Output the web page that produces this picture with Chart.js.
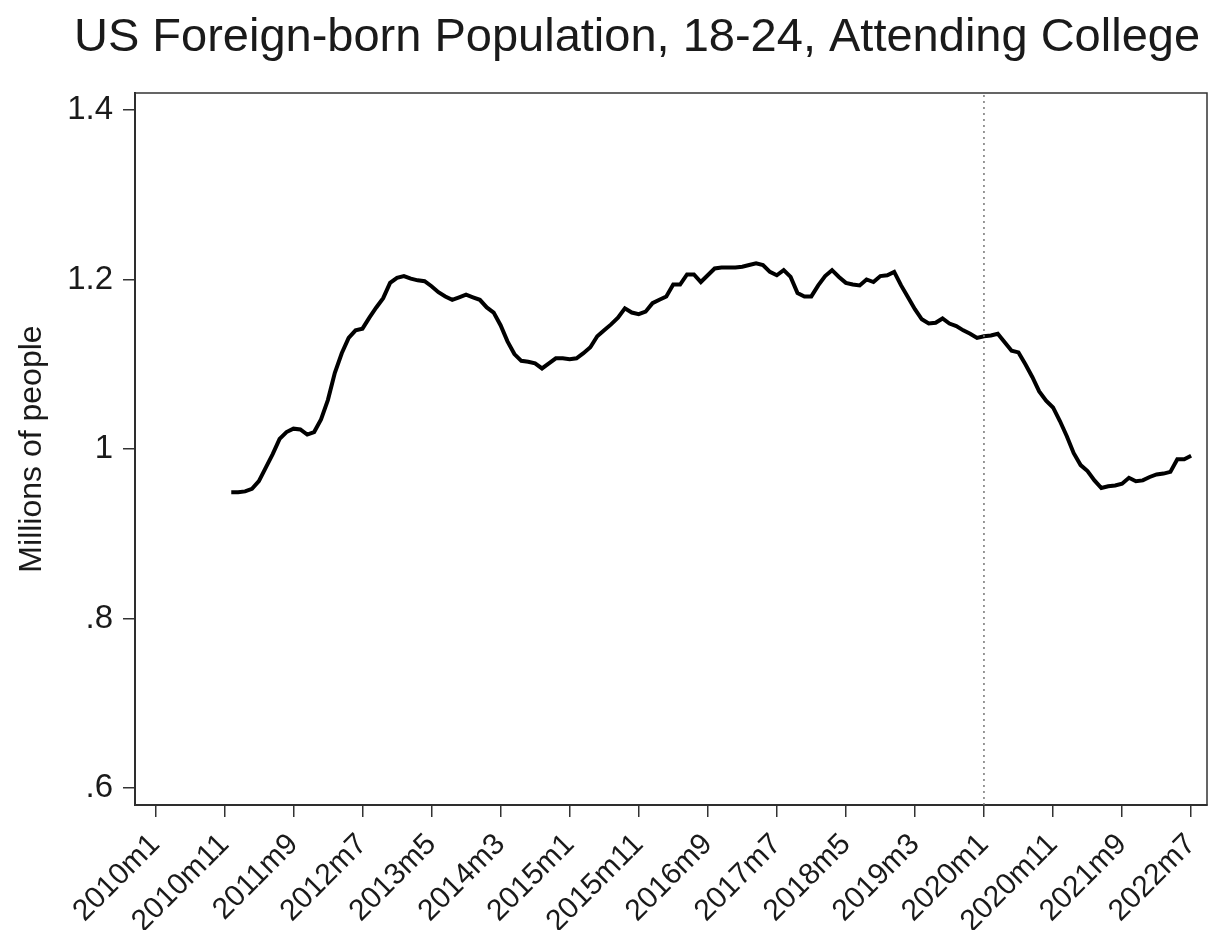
<!DOCTYPE html>
<html>
<head>
<meta charset="utf-8">
<script src="https://cdn.jsdelivr.net/npm/chart.js@4.4.0/dist/chart.umd.min.js"></script>
<style>
  html, body { margin: 0; padding: 0; background: #fff; }
  #wrap { width: 1224px; height: 930px; }
</style>
</head>
<body>
<div id="wrap"><canvas id="chart" width="1224" height="930"></canvas></div>
<script>
// months counted from 2010m1 = 0; the series starts at 2010m12
var firstMonth = 11;
var attending = [
  0.949, 0.949, 0.950, 0.953, 0.962, 0.978, 0.994, 1.012, 1.020, 1.024,
  1.023, 1.017, 1.020, 1.035, 1.058, 1.090, 1.113, 1.131, 1.140, 1.142,
  1.155, 1.167, 1.178, 1.196, 1.202, 1.204, 1.201, 1.199, 1.198, 1.192,
  1.185, 1.180, 1.176, 1.179, 1.182, 1.179, 1.176, 1.167, 1.161, 1.146,
  1.127, 1.112, 1.104, 1.103, 1.101, 1.095, 1.101, 1.107, 1.107, 1.106,
  1.107, 1.113, 1.120, 1.133, 1.140, 1.147, 1.155, 1.166, 1.161, 1.159,
  1.162, 1.172, 1.176, 1.180, 1.194, 1.194, 1.206, 1.206, 1.197, 1.205,
  1.213, 1.214, 1.214, 1.214, 1.215, 1.217, 1.219, 1.217, 1.209, 1.205,
  1.211, 1.203, 1.184, 1.180, 1.180, 1.193, 1.204, 1.211, 1.203, 1.196,
  1.194, 1.193, 1.200, 1.197, 1.204, 1.205, 1.209, 1.193, 1.179, 1.165,
  1.153, 1.148, 1.149, 1.154, 1.148, 1.145, 1.140, 1.136, 1.131, 1.133,
  1.134, 1.136, 1.126, 1.116, 1.114, 1.100, 1.085, 1.068, 1.057, 1.049,
  1.033, 1.015, 0.995, 0.981, 0.974, 0.963, 0.954, 0.956, 0.957, 0.959,
  0.966, 0.962, 0.963, 0.967, 0.970, 0.971, 0.973, 0.988, 0.988, 0.992
];
var xTickMonths = [0, 10, 20, 30, 40, 50, 60, 70, 80, 90, 100, 110, 120, 130, 140, 150];
var yTicks = [0.6, 0.8, 1, 1.2, 1.4];
var markerMonth = 120; // 2020m1
var yRange = [0.58, 1.42];
var titleText = 'US Foreign-born Population, 18-24, Attending College';
var yTitle = 'Millions of people';

var FONT = '"Liberation Sans", Arial, sans-serif';
var INK = '#1a1a1a';

function monthLabel(i) {
  return (2010 + Math.floor(i / 12)) + 'm' + (i % 12 + 1);
}
function yLabel(v) {
  if (v === 1) return '1';
  if (v < 1) return String(v).replace('0.', '.');
  return v.toFixed(1);
}

var seriesPts = attending.map(function(v, k) { return { x: firstMonth + k, y: v }; });
var markerPts = [{ x: markerMonth, y: yRange[0] }, { x: markerMonth, y: yRange[1] }];

// title and the box around the plot
var decor = {
  id: 'decor',
  beforeDatasetsDraw: function(chart) {
    var a = chart.chartArea, ctx = chart.ctx;
    ctx.save();
    ctx.strokeStyle = '#333';
    ctx.lineWidth = 1.5;
    ctx.strokeRect(a.left, a.top, a.right - a.left, a.bottom - a.top);
    ctx.restore();
  },
  afterDraw: function(chart) {
    var ctx = chart.ctx;
    ctx.save();
    ctx.fillStyle = INK;
    ctx.font = '47px ' + FONT;
    ctx.textAlign = 'center';
    ctx.textBaseline = 'alphabetic';
    ctx.fillText(titleText, 637, 51);
    ctx.restore();
  }
};

new Chart(document.getElementById('chart'), {
  type: 'line',
  data: {
    datasets: [
      {
        data: markerPts,
        borderColor: '#777',
        borderWidth: 1.5,
        borderDash: [2, 4],
        pointRadius: 0,
        fill: false
      },
      {
        data: seriesPts,
        borderColor: '#000',
        borderWidth: 4,
        pointRadius: 0,
        tension: 0,
        fill: false
      }
    ]
  },
  options: {
    responsive: false,
    animation: false,
    layout: { padding: { top: 93, right: 17, left: 0, bottom: 0 } },
    plugins: { legend: { display: false }, tooltip: { enabled: false }, title: { display: false } },
    scales: {
      x: {
        type: 'linear',
        min: -2.94,
        max: 152.3,
        afterBuildTicks: function(s) { s.ticks = xTickMonths.map(function(v) { return { value: v }; }); },
        afterFit: function(s) { s.height = 125; s.paddingLeft = 0; s.paddingRight = 0; },
        ticks: {
          autoSkip: false,
          maxRotation: 45,
          minRotation: 45,
          padding: 10,
          color: INK,
          font: { family: FONT, size: 30 },
          callback: function(v) { return monthLabel(v); }
        },
        grid: { drawOnChartArea: false, drawTicks: true, tickLength: 12, color: '#333', lineWidth: 1.5 },
        border: { display: true, color: '#222', width: 2 }
      },
      y: {
        min: yRange[0],
        max: yRange[1],
        afterBuildTicks: function(s) { s.ticks = yTicks.map(function(v) { return { value: v }; }); },
        afterFit: function(s) { s.width = 135; },
        ticks: {
          padding: 10,
          color: INK,
          font: { family: FONT, size: 33 },
          callback: function(v) { return yLabel(v); }
        },
        title: {
          display: true,
          text: yTitle,
          color: INK,
          font: { family: FONT, size: 32 },
          padding: { top: 13, bottom: 0 }
        },
        grid: { drawOnChartArea: false, drawTicks: true, tickLength: 12, color: '#333', lineWidth: 1.5 },
        border: { display: true, color: '#222', width: 2 }
      }
    }
  },
  plugins: [decor]
});
</script>
</body>
</html>
